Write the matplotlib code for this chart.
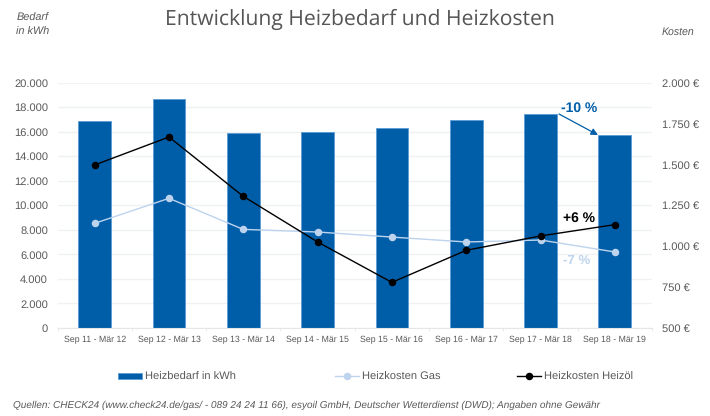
import matplotlib
matplotlib.use("Agg")
import matplotlib.pyplot as plt
from matplotlib.ticker import FuncFormatter, MultipleLocator

categories = ["Sep 11 - Mär 12", "Sep 12 - Mär 13", "Sep 13 - Mär 14", "Sep 14 - Mär 15",
              "Sep 15 - Mär 16", "Sep 16 - Mär 17", "Sep 17 - Mär 18", "Sep 18 - Mär 19"]
bedarf = [16880, 18680, 15870, 15950, 16330, 16930, 17480, 15700]
gas = [1140, 1293, 1103, 1087, 1056, 1026, 1038, 965]
oel = [1497, 1668, 1305, 1026, 779, 975, 1063, 1132]

BLUE = "#005ea8"
LIGHT = "#bdd3ee"
GREY = "#595959"
W, H = 710, 416

plt.rcParams["font.family"] = ["Liberation Sans", "DejaVu Sans"]
plt.rcParams["text.hinting"] = "no_hinting"
fig = plt.figure(figsize=(W / 100, H / 100), dpi=100)
L, R, T, B = 57.5, 652, 82.7, 328
ax = fig.add_axes([L / W, 1 - B / H, (R - L) / W, (B - T) / H])
x = list(range(len(categories)))
ax.set_xlim(-0.5, 7.5)
ax.set_ylim(0, 20000)
ax.yaxis.set_major_locator(MultipleLocator(2000))
de = lambda v, p=None: f"{int(v):,}".replace(",", ".")
ax.yaxis.set_major_formatter(FuncFormatter(de))
ax.set_axisbelow(True)
ax.grid(axis="y", color="#eff1f3", lw=1)
bars = ax.bar(x, bedarf, width=0.44, color=BLUE, edgecolor="#5b9bd5", lw=0.6, label="Heizbedarf in kWh")
for s in ax.spines.values():
    s.set_visible(False)
ax.spines["bottom"].set_visible(True)
ax.spines["bottom"].set_color("#e6e6e6")
ax.set_xticks(x)
ax.set_xticklabels(categories, fontsize=6.3, color=GREY)
ax.set_xticks([i - 0.5 for i in range(9)], minor=True)
ax.tick_params(axis="x", which="major", length=0, pad=5.5)
ax.tick_params(axis="x", which="minor", length=2, color="#e6e6e6")
ax.tick_params(axis="y", length=0, labelsize=8, labelcolor=GREY, pad=6.8)

ax2 = ax.twinx()
ax2.set_ylim(500, 2000)
ax2.yaxis.set_major_locator(MultipleLocator(250))
ax2.yaxis.set_major_formatter(FuncFormatter(lambda v, p: de(v) + " €"))
ax2.tick_params(axis="y", length=0, labelsize=8, labelcolor=GREY, pad=7.2)
for s in ax2.spines.values():
    s.set_visible(False)
l1, = ax2.plot(x, gas, color=LIGHT, lw=1.0, marker="o", ms=4.4, label="Heizkosten Gas")
l2, = ax2.plot(x, oel, color="black", lw=1.0, marker="o", ms=4.4, label="Heizkosten Heizöl")


def ftext(px, py, s, **kw):
    fig.text(px / W, 1 - py / H, s, **kw)


ftext(359.5, 19, "Entwicklung Heizbedarf und Heizkosten", family="Open Sans", fontsize=15.2,
      color="#555555", ha="center", va="center")
ftext(49, 18.5, "Bedarf", style="italic", fontsize=7.8, color=GREY, ha="right", va="center")
ftext(49, 31.5, "in kWh", style="italic", fontsize=7.8, color=GREY, ha="right", va="center")
ftext(662, 32, "Kosten", style="italic", fontsize=7.6, color=GREY, ha="left", va="center")
ftext(12.7, 405.7, "Quellen: CHECK24 (www.check24.de/gas/ - 089 24 24 11 66), esyoil GmbH, Deutscher Wetterdienst (DWD); Angaben ohne Gewähr",
      style="italic", fontsize=7.16, color=GREY, ha="left", va="center")

ftext(579, 108, "-10 %", weight="bold", fontsize=10, color=BLUE, ha="center", va="center")
ftext(579, 218.5, "+6 %", weight="bold", fontsize=10, color="black", ha="center", va="center")
ftext(577, 261, "-7 %", weight="bold", fontsize=9.5, color=LIGHT, ha="center", va="center")

ax.annotate("", xy=(598 / W, 1 - 135 / H), xytext=(559 / W, 1 - 114 / H),
            xycoords="figure fraction", textcoords="figure fraction",
            arrowprops=dict(arrowstyle="-|>", color=BLUE, lw=0.9, mutation_scale=10, shrinkA=0, shrinkB=0))

leg_y = 1 - 377 / H
for handle, label, bx in [(bars, "Heizbedarf in kWh", 118), (l1, "Heizkosten Gas", 335), (l2, "Heizkosten Heizöl", 517)]:
    fig.legend([handle], [label], loc="center left", bbox_to_anchor=(bx / W, leg_y), frameon=False,
               fontsize=8, labelcolor=GREY, borderpad=0, borderaxespad=0, handlelength=2.2,
               handletextpad=0.27, handleheight=0.45)

fig.savefig("out.png", dpi=100)
